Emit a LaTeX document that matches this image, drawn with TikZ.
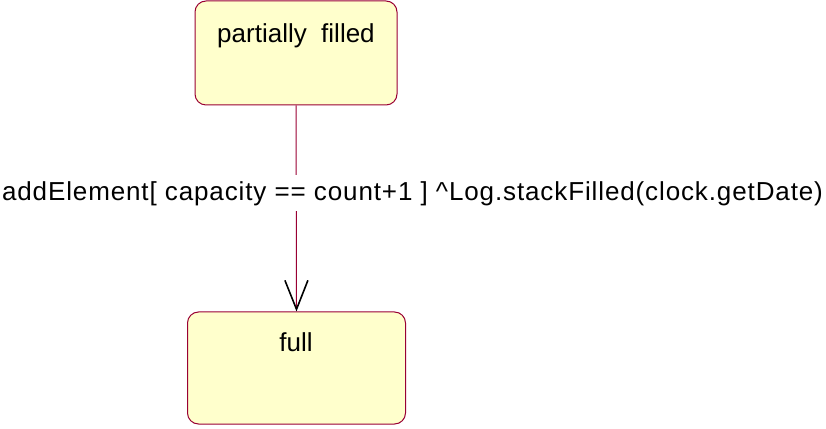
\documentclass[tikz,border=0pt]{standalone}
\usepackage{fontspec}
\setmainfont{Liberation Sans}
\usetikzlibrary{arrows.meta}
\definecolor{stateborder}{HTML}{990033}
\definecolor{statefill}{HTML}{FFFFCC}
\tikzset{
  statebox/.style={draw=stateborder, fill=statefill, rounded corners=11pt, line width=1pt},
  lbl/.style={font=\fontsize{26}{30}\selectfont, inner sep=0pt, anchor=base},
  trans/.style={draw=stateborder, line width=1pt,
    -{Straight Barb[length=29pt, width=23pt, line width=1.6pt, color=black]}}
}
\begin{document}
\begin{tikzpicture}[x=1pt,y=1pt]
\useasboundingbox (0,0) rectangle (826,428);
\node[statebox, minimum width=202pt, minimum height=104pt] (pf) at (296,375) {};
\node[statebox, minimum width=218pt, minimum height=112pt] (full) at (296.5,60) {};
\node[lbl] (pft) at (296,385) {partially\ \ filled};
\node[lbl] (fullt) at (296,76) {full};
\draw[trans] (pf.south) -- (full.north);
\node[lbl, fill=white, text height=26pt, text depth=10pt] (tl) at (412.5,227) {\addfontfeature{LetterSpace=3.4}addElement[ capacity == count+1 ] \^{}Log.stackFilled(clock.getDate)};
\end{tikzpicture}
\end{document}
